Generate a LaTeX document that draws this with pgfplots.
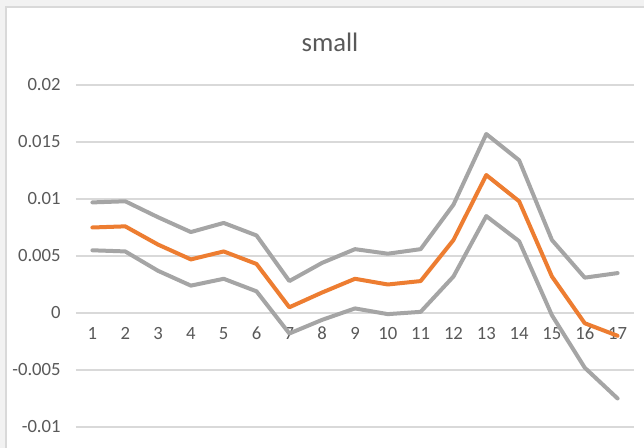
\documentclass[border=0pt]{standalone}
\usepackage{pgfplots}
\pgfplotsset{compat=1.18}
\usepackage{fontspec}
\setmainfont{Carlito}
\definecolor{gridc}{HTML}{D9D9D9}
\definecolor{txt}{HTML}{595959}
\definecolor{grayl}{HTML}{A5A5A5}
\definecolor{orangel}{HTML}{ED7D31}
\definecolor{outbg}{HTML}{F2F2F2}
\begin{document}
\begin{tikzpicture}
\path[use as bounding box, fill=outbg] (-57pt,-15.75pt) rectangle (426pt,320.25pt);
\fill[white] (-52.5pt,-15.75pt) rectangle (426pt,315pt);
\draw[gridc, line width=1.2pt] (-52.5pt,-20pt) -- (-52.5pt,315pt) -- (430pt,315pt);
\node[txt, font=\fontsize{20}{24}\selectfont] at (190.5pt,288.75pt) {small};
\begin{axis}[
  at={(0,0)}, anchor=south west,
  scale only axis, width=418.5pt, height=256.5pt,
  xmin=0.5, xmax=17.5, ymin=-0.01, ymax=0.02,
  axis x line=middle, axis y line=left,
  x axis line style={draw=none}, y axis line style={draw=none},
  xtick={1,...,17}, xticklabels={1,2,3,4,5,6,7,8,9,10,11,12,13,14,15,16,17},
  ytick={-0.01,-0.005,0,0.005,0.01,0.015,0.02},
  yticklabels={-0.01,-0.005,0,0.005,0.01,0.015,0.02},
  scaled y ticks=false,
  major tick length=0pt,
  ymajorgrids, grid style={gridc, line width=1.2pt},
  tick label style={txt, font=\fontsize{14}{16}\selectfont},
  xticklabel style={anchor=north, yshift=-7pt},
  yticklabel style={anchor=east, xshift=-8pt},
  every axis plot/.append style={line width=3pt, line join=round, line cap=round},
  clip=false,
]
\addplot[grayl] coordinates {
(1,0.0097) (2,0.0098) (3,0.0084) (4,0.0071) (5,0.0079) (6,0.0068) (7,0.0028) (8,0.0044) (9,0.0056)
(10,0.0052) (11,0.0056) (12,0.0095) (13,0.0157) (14,0.0134) (15,0.0064) (16,0.0031) (17,0.0035)};
\addplot[orangel] coordinates {
(1,0.0075) (2,0.0076) (3,0.0060) (4,0.0047) (5,0.0054) (6,0.0043) (7,0.0005) (8,0.0018) (9,0.0030)
(10,0.0025) (11,0.0028) (12,0.0064) (13,0.0121) (14,0.0098) (15,0.0032) (16,-0.0009) (17,-0.0020)};
\addplot[grayl] coordinates {
(1,0.0055) (2,0.0054) (3,0.0037) (4,0.0024) (5,0.0030) (6,0.0019) (7,-0.0018) (8,-0.0006) (9,0.0004)
(10,-0.0001) (11,0.0001) (12,0.0032) (13,0.0085) (14,0.0063) (15,-0.0002) (16,-0.0048) (17,-0.0075)};
\end{axis}
\end{tikzpicture}
\end{document}
